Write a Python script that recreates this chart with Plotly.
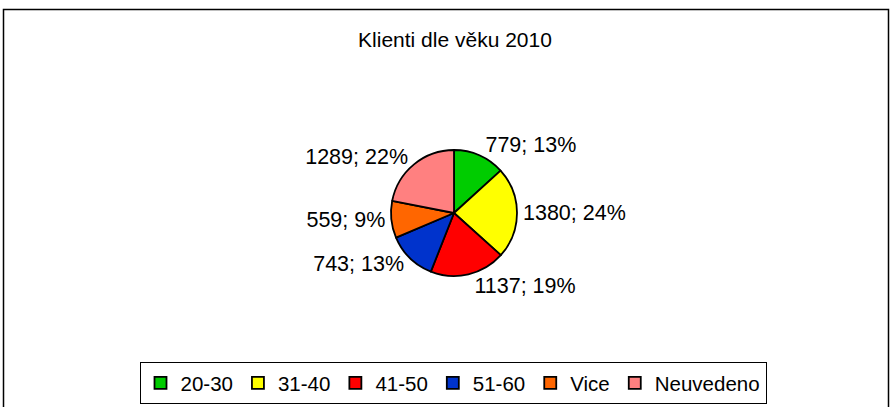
import plotly.graph_objects as go

categories = ["20-30", "31-40", "41-50", "51-60", "Vice", "Neuvedeno"]
values = [779, 1380, 1137, 743, 559, 1289]
percent_labels = [13, 24, 19, 13, 9, 22]
colors = ["#00CC00", "#FFFF00", "#FF0000", "#0033CC", "#FF6600", "#FF8080"]

W, H = 893, 407
cx, cy, r = 454, 213, 63

texts = [f"{v}; {p}%" for v, p in zip(values, percent_labels)]

FONT = "Liberation Sans, Arial"

fig = go.Figure(go.Pie(
    labels=categories,
    values=values,
    text=texts,
    textinfo="text",
    textposition="outside",
    sort=False,
    direction="clockwise",
    rotation=0,
    marker=dict(colors=colors, line=dict(color="black", width=1.8)),
    textfont=dict(family=FONT, size=21.5, color="black"),
    hoverinfo="label+value+percent",
    domain=dict(x=[(cx - r) / W, (cx + r) / W], y=[1 - (cy + r) / H, 1 - (cy - r) / H]),
))

fig.update_layout(
    width=W, height=H,
    margin=dict(l=0, r=0, t=0, b=0),
    paper_bgcolor="white",
    plot_bgcolor="white",
    font=dict(family=FONT, color="black"),
    title=dict(text="Klienti dle věku 2010", x=455 / W, xanchor="center",
               y=1 - 40 / H, yanchor="middle", font=dict(size=21)),
    showlegend=True,
    legend=dict(orientation="h", x=453 / W, xanchor="center", y=1 - 362 / H, yanchor="top",
                bordercolor="black", borderwidth=1, font=dict(size=20.5),
                itemwidth=30, traceorder="normal"),
    shapes=[dict(type="rect", xref="paper", yref="paper",
                 x0=3.5 / W, x1=888.5 / W, y0=-0.2, y1=1 - 9.5 / H,
                 line=dict(color="black", width=1.5), layer="below")],
)

fig.write_html("out.html", config={"displayModeBar": False},
               post_script="document.body.style.margin='0';")
